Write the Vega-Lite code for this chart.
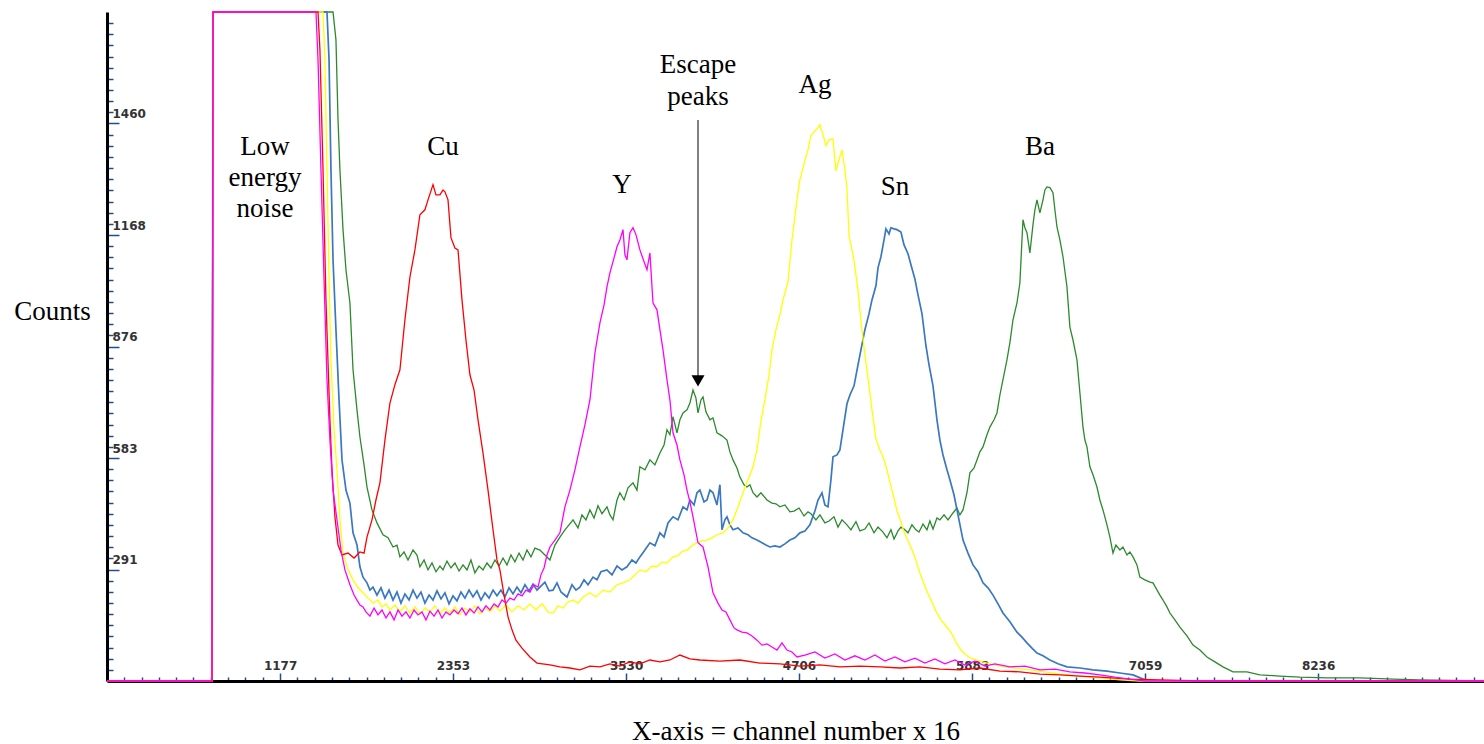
{
"$schema":"https://vega.github.io/schema/vega-lite/v6.json",
"width":1377,"height":669,
"autosize":{"type":"none"},
"padding":{"left":107,"top":12,"right":0,"bottom":63},
"background":"white",
"config":{"view":{"stroke":null}},
"datasets":{
"spectra":[
{"el":"Cu","ch":0,"ct":0},{"el":"Cu","ch":714,"ct":0},{"el":"Cu","ch":721,"ct":1752},{"el":"Cu","ch":1435,"ct":1752},{"el":"Cu","ch":1448,"ct":1653},{"el":"Cu","ch":1469,"ct":1339},{"el":"Cu","ch":1489,"ct":998},{"el":"Cu","ch":1516,"ct":684},{"el":"Cu","ch":1530,"ct":553},{"el":"Cu","ch":1550,"ct":430},{"el":"Cu","ch":1571,"ct":356},{"el":"Cu","ch":1598,"ct":330},{"el":"Cu","ch":1639,"ct":335},{"el":"Cu","ch":1680,"ct":322},{"el":"Cu","ch":1720,"ct":338},{"el":"Cu","ch":1748,"ct":335},{"el":"Cu","ch":1768,"ct":377},{"el":"Cu","ch":1802,"ct":422},{"el":"Cu","ch":1829,"ct":474},{"el":"Cu","ch":1856,"ct":519},{"el":"Cu","ch":1890,"ct":631},{"el":"Cu","ch":1924,"ct":728},{"el":"Cu","ch":1958,"ct":776},{"el":"Cu","ch":1992,"ct":815},{"el":"Cu","ch":2026,"ct":946},{"el":"Cu","ch":2060,"ct":1058},{"el":"Cu","ch":2094,"ct":1129},{"el":"Cu","ch":2128,"ct":1221},{"el":"Cu","ch":2162,"ct":1234},{"el":"Cu","ch":2183,"ct":1260},{"el":"Cu","ch":2217,"ct":1300},{"el":"Cu","ch":2237,"ct":1273},{"el":"Cu","ch":2264,"ct":1273},{"el":"Cu","ch":2285,"ct":1286},{"el":"Cu","ch":2298,"ct":1281},{"el":"Cu","ch":2319,"ct":1260},{"el":"Cu","ch":2339,"ct":1161},{"el":"Cu","ch":2366,"ct":1134},{"el":"Cu","ch":2387,"ct":1129},{"el":"Cu","ch":2414,"ct":998},{"el":"Cu","ch":2441,"ct":893},{"el":"Cu","ch":2468,"ct":802},{"el":"Cu","ch":2496,"ct":762},{"el":"Cu","ch":2523,"ct":684},{"el":"Cu","ch":2557,"ct":597},{"el":"Cu","ch":2591,"ct":500},{"el":"Cu","ch":2625,"ct":396},{"el":"Cu","ch":2652,"ct":317},{"el":"Cu","ch":2672,"ct":291},{"el":"Cu","ch":2700,"ct":225},{"el":"Cu","ch":2727,"ct":168},{"el":"Cu","ch":2754,"ct":134},{"el":"Cu","ch":2781,"ct":107},{"el":"Cu","ch":2822,"ct":86},{"el":"Cu","ch":2876,"ct":63},{"el":"Cu","ch":2924,"ct":47},{"el":"Cu","ch":3012,"ct":42},{"el":"Cu","ch":3080,"ct":37},{"el":"Cu","ch":3148,"ct":34},{"el":"Cu","ch":3216,"ct":29},{"el":"Cu","ch":3284,"ct":39},{"el":"Cu","ch":3352,"ct":37},{"el":"Cu","ch":3420,"ct":45},{"el":"Cu","ch":3488,"ct":39},{"el":"Cu","ch":3556,"ct":50},{"el":"Cu","ch":3624,"ct":45},{"el":"Cu","ch":3692,"ct":55},{"el":"Cu","ch":3760,"ct":50},{"el":"Cu","ch":3828,"ct":55},{"el":"Cu","ch":3896,"ct":68},{"el":"Cu","ch":3964,"ct":58},{"el":"Cu","ch":4032,"ct":55},{"el":"Cu","ch":4168,"ct":52},{"el":"Cu","ch":4304,"ct":55},{"el":"Cu","ch":4440,"ct":47},{"el":"Cu","ch":4576,"ct":45},{"el":"Cu","ch":4712,"ct":39},{"el":"Cu","ch":4848,"ct":42},{"el":"Cu","ch":4984,"ct":37},{"el":"Cu","ch":5120,"ct":39},{"el":"Cu","ch":5256,"ct":37},{"el":"Cu","ch":5392,"ct":34},{"el":"Cu","ch":5528,"ct":37},{"el":"Cu","ch":5664,"ct":31},{"el":"Cu","ch":5800,"ct":29},{"el":"Cu","ch":5936,"ct":34},{"el":"Cu","ch":6072,"ct":26},{"el":"Cu","ch":6208,"ct":24},{"el":"Cu","ch":6344,"ct":18},{"el":"Cu","ch":6480,"ct":16},{"el":"Cu","ch":6616,"ct":13},{"el":"Cu","ch":6752,"ct":10},{"el":"Cu","ch":6956,"ct":5},{"el":"Cu","ch":7160,"ct":3},{"el":"Cu","ch":7432,"ct":0},{"el":"Cu","ch":9364,"ct":0},
{"el":"Y","ch":0,"ct":0},{"el":"Y","ch":714,"ct":0},{"el":"Y","ch":721,"ct":1752},{"el":"Y","ch":1421,"ct":1752},{"el":"Y","ch":1435,"ct":1627},{"el":"Y","ch":1455,"ct":1339},{"el":"Y","ch":1476,"ct":1051},{"el":"Y","ch":1496,"ct":789},{"el":"Y","ch":1516,"ct":631},{"el":"Y","ch":1537,"ct":500},{"el":"Y","ch":1564,"ct":422},{"el":"Y","ch":1591,"ct":343},{"el":"Y","ch":1618,"ct":291},{"el":"Y","ch":1652,"ct":252},{"el":"Y","ch":1680,"ct":225},{"el":"Y","ch":1700,"ct":212},{"el":"Y","ch":1720,"ct":199},{"el":"Y","ch":1741,"ct":194},{"el":"Y","ch":1761,"ct":181},{"el":"Y","ch":1788,"ct":170},{"el":"Y","ch":1816,"ct":191},{"el":"Y","ch":1843,"ct":173},{"el":"Y","ch":1870,"ct":186},{"el":"Y","ch":1897,"ct":165},{"el":"Y","ch":1924,"ct":181},{"el":"Y","ch":1952,"ct":160},{"el":"Y","ch":1979,"ct":186},{"el":"Y","ch":2006,"ct":170},{"el":"Y","ch":2033,"ct":181},{"el":"Y","ch":2060,"ct":165},{"el":"Y","ch":2088,"ct":186},{"el":"Y","ch":2115,"ct":173},{"el":"Y","ch":2142,"ct":181},{"el":"Y","ch":2169,"ct":160},{"el":"Y","ch":2196,"ct":183},{"el":"Y","ch":2224,"ct":170},{"el":"Y","ch":2251,"ct":186},{"el":"Y","ch":2278,"ct":165},{"el":"Y","ch":2305,"ct":181},{"el":"Y","ch":2332,"ct":173},{"el":"Y","ch":2360,"ct":186},{"el":"Y","ch":2387,"ct":176},{"el":"Y","ch":2414,"ct":191},{"el":"Y","ch":2441,"ct":173},{"el":"Y","ch":2468,"ct":189},{"el":"Y","ch":2496,"ct":178},{"el":"Y","ch":2523,"ct":194},{"el":"Y","ch":2550,"ct":181},{"el":"Y","ch":2577,"ct":197},{"el":"Y","ch":2604,"ct":186},{"el":"Y","ch":2632,"ct":202},{"el":"Y","ch":2659,"ct":194},{"el":"Y","ch":2686,"ct":212},{"el":"Y","ch":2713,"ct":204},{"el":"Y","ch":2740,"ct":217},{"el":"Y","ch":2768,"ct":212},{"el":"Y","ch":2795,"ct":228},{"el":"Y","ch":2822,"ct":223},{"el":"Y","ch":2849,"ct":238},{"el":"Y","ch":2876,"ct":233},{"el":"Y","ch":2904,"ct":252},{"el":"Y","ch":2931,"ct":246},{"el":"Y","ch":2951,"ct":278},{"el":"Y","ch":2972,"ct":296},{"el":"Y","ch":2992,"ct":330},{"el":"Y","ch":3012,"ct":351},{"el":"Y","ch":3046,"ct":369},{"el":"Y","ch":3080,"ct":388},{"el":"Y","ch":3114,"ct":456},{"el":"Y","ch":3148,"ct":500},{"el":"Y","ch":3182,"ct":553},{"el":"Y","ch":3216,"ct":613},{"el":"Y","ch":3250,"ct":671},{"el":"Y","ch":3284,"ct":736},{"el":"Y","ch":3318,"ct":859},{"el":"Y","ch":3352,"ct":938},{"el":"Y","ch":3380,"ct":985},{"el":"Y","ch":3400,"ct":1032},{"el":"Y","ch":3420,"ct":1069},{"el":"Y","ch":3448,"ct":1108},{"el":"Y","ch":3468,"ct":1137},{"el":"Y","ch":3488,"ct":1155},{"el":"Y","ch":3509,"ct":1182},{"el":"Y","ch":3522,"ct":1116},{"el":"Y","ch":3536,"ct":1103},{"el":"Y","ch":3556,"ct":1174},{"el":"Y","ch":3577,"ct":1187},{"el":"Y","ch":3597,"ct":1169},{"el":"Y","ch":3624,"ct":1129},{"el":"Y","ch":3652,"ct":1098},{"el":"Y","ch":3672,"ct":1077},{"el":"Y","ch":3692,"ct":1121},{"el":"Y","ch":3713,"ct":990},{"el":"Y","ch":3740,"ct":972},{"el":"Y","ch":3760,"ct":920},{"el":"Y","ch":3781,"ct":867},{"el":"Y","ch":3808,"ct":789},{"el":"Y","ch":3828,"ct":736},{"el":"Y","ch":3849,"ct":650},{"el":"Y","ch":3876,"ct":618},{"el":"Y","ch":3896,"ct":579},{"el":"Y","ch":3924,"ct":540},{"el":"Y","ch":3944,"ct":500},{"el":"Y","ch":3964,"ct":469},{"el":"Y","ch":3985,"ct":430},{"el":"Y","ch":4019,"ct":362},{"el":"Y","ch":4053,"ct":351},{"el":"Y","ch":4087,"ct":299},{"el":"Y","ch":4121,"ct":231},{"el":"Y","ch":4155,"ct":204},{"el":"Y","ch":4182,"ct":186},{"el":"Y","ch":4209,"ct":181},{"el":"Y","ch":4236,"ct":160},{"el":"Y","ch":4264,"ct":139},{"el":"Y","ch":4284,"ct":134},{"el":"Y","ch":4318,"ct":128},{"el":"Y","ch":4352,"ct":126},{"el":"Y","ch":4386,"ct":118},{"el":"Y","ch":4420,"ct":107},{"el":"Y","ch":4454,"ct":94},{"el":"Y","ch":4488,"ct":97},{"el":"Y","ch":4522,"ct":89},{"el":"Y","ch":4556,"ct":81},{"el":"Y","ch":4590,"ct":100},{"el":"Y","ch":4624,"ct":81},{"el":"Y","ch":4658,"ct":76},{"el":"Y","ch":4692,"ct":63},{"el":"Y","ch":4746,"ct":68},{"el":"Y","ch":4814,"ct":76},{"el":"Y","ch":4882,"ct":60},{"el":"Y","ch":4950,"ct":71},{"el":"Y","ch":5018,"ct":55},{"el":"Y","ch":5086,"ct":66},{"el":"Y","ch":5154,"ct":55},{"el":"Y","ch":5222,"ct":68},{"el":"Y","ch":5290,"ct":52},{"el":"Y","ch":5358,"ct":63},{"el":"Y","ch":5426,"ct":50},{"el":"Y","ch":5494,"ct":60},{"el":"Y","ch":5562,"ct":47},{"el":"Y","ch":5630,"ct":58},{"el":"Y","ch":5698,"ct":45},{"el":"Y","ch":5766,"ct":55},{"el":"Y","ch":5834,"ct":42},{"el":"Y","ch":5902,"ct":52},{"el":"Y","ch":5970,"ct":39},{"el":"Y","ch":6038,"ct":45},{"el":"Y","ch":6140,"ct":37},{"el":"Y","ch":6242,"ct":39},{"el":"Y","ch":6344,"ct":29},{"el":"Y","ch":6446,"ct":31},{"el":"Y","ch":6548,"ct":24},{"el":"Y","ch":6650,"ct":21},{"el":"Y","ch":6752,"ct":16},{"el":"Y","ch":6854,"ct":10},{"el":"Y","ch":6956,"ct":5},{"el":"Y","ch":7058,"ct":0},{"el":"Y","ch":9364,"ct":0},
{"el":"Ag","ch":0,"ct":0},{"el":"Ag","ch":714,"ct":0},{"el":"Ag","ch":721,"ct":1752},{"el":"Ag","ch":1469,"ct":1752},{"el":"Ag","ch":1482,"ct":1627},{"el":"Ag","ch":1496,"ct":1339},{"el":"Ag","ch":1510,"ct":1051},{"el":"Ag","ch":1523,"ct":841},{"el":"Ag","ch":1544,"ct":658},{"el":"Ag","ch":1564,"ct":553},{"el":"Ag","ch":1584,"ct":422},{"el":"Ag","ch":1605,"ct":335},{"el":"Ag","ch":1639,"ct":291},{"el":"Ag","ch":1673,"ct":265},{"el":"Ag","ch":1707,"ct":244},{"el":"Ag","ch":1741,"ct":231},{"el":"Ag","ch":1775,"ct":217},{"el":"Ag","ch":1809,"ct":204},{"el":"Ag","ch":1843,"ct":212},{"el":"Ag","ch":1870,"ct":194},{"el":"Ag","ch":1897,"ct":202},{"el":"Ag","ch":1924,"ct":186},{"el":"Ag","ch":1958,"ct":199},{"el":"Ag","ch":1992,"ct":181},{"el":"Ag","ch":2026,"ct":197},{"el":"Ag","ch":2060,"ct":178},{"el":"Ag","ch":2094,"ct":194},{"el":"Ag","ch":2128,"ct":176},{"el":"Ag","ch":2162,"ct":191},{"el":"Ag","ch":2196,"ct":181},{"el":"Ag","ch":2230,"ct":197},{"el":"Ag","ch":2264,"ct":176},{"el":"Ag","ch":2298,"ct":191},{"el":"Ag","ch":2332,"ct":178},{"el":"Ag","ch":2366,"ct":194},{"el":"Ag","ch":2400,"ct":173},{"el":"Ag","ch":2434,"ct":191},{"el":"Ag","ch":2468,"ct":181},{"el":"Ag","ch":2502,"ct":197},{"el":"Ag","ch":2536,"ct":176},{"el":"Ag","ch":2570,"ct":194},{"el":"Ag","ch":2604,"ct":181},{"el":"Ag","ch":2638,"ct":197},{"el":"Ag","ch":2672,"ct":183},{"el":"Ag","ch":2713,"ct":199},{"el":"Ag","ch":2754,"ct":181},{"el":"Ag","ch":2795,"ct":197},{"el":"Ag","ch":2836,"ct":186},{"el":"Ag","ch":2876,"ct":202},{"el":"Ag","ch":2917,"ct":186},{"el":"Ag","ch":2958,"ct":202},{"el":"Ag","ch":2999,"ct":181},{"el":"Ag","ch":3033,"ct":178},{"el":"Ag","ch":3067,"ct":197},{"el":"Ag","ch":3101,"ct":191},{"el":"Ag","ch":3135,"ct":207},{"el":"Ag","ch":3169,"ct":212},{"el":"Ag","ch":3203,"ct":204},{"el":"Ag","ch":3237,"ct":220},{"el":"Ag","ch":3284,"ct":231},{"el":"Ag","ch":3325,"ct":220},{"el":"Ag","ch":3373,"ct":238},{"el":"Ag","ch":3420,"ct":233},{"el":"Ag","ch":3468,"ct":252},{"el":"Ag","ch":3509,"ct":257},{"el":"Ag","ch":3556,"ct":265},{"el":"Ag","ch":3590,"ct":278},{"el":"Ag","ch":3624,"ct":291},{"el":"Ag","ch":3665,"ct":286},{"el":"Ag","ch":3706,"ct":301},{"el":"Ag","ch":3740,"ct":299},{"el":"Ag","ch":3774,"ct":312},{"el":"Ag","ch":3808,"ct":309},{"el":"Ag","ch":3849,"ct":325},{"el":"Ag","ch":3883,"ct":328},{"el":"Ag","ch":3917,"ct":341},{"el":"Ag","ch":3944,"ct":343},{"el":"Ag","ch":3978,"ct":354},{"el":"Ag","ch":4012,"ct":362},{"el":"Ag","ch":4046,"ct":367},{"el":"Ag","ch":4080,"ct":369},{"el":"Ag","ch":4114,"ct":375},{"el":"Ag","ch":4148,"ct":383},{"el":"Ag","ch":4189,"ct":388},{"el":"Ag","ch":4223,"ct":401},{"el":"Ag","ch":4257,"ct":422},{"el":"Ag","ch":4291,"ct":456},{"el":"Ag","ch":4325,"ct":493},{"el":"Ag","ch":4359,"ct":527},{"el":"Ag","ch":4393,"ct":561},{"el":"Ag","ch":4420,"ct":605},{"el":"Ag","ch":4447,"ct":681},{"el":"Ag","ch":4474,"ct":736},{"el":"Ag","ch":4502,"ct":802},{"el":"Ag","ch":4522,"ct":867},{"el":"Ag","ch":4549,"ct":920},{"el":"Ag","ch":4576,"ct":959},{"el":"Ag","ch":4597,"ct":998},{"el":"Ag","ch":4631,"ct":1045},{"el":"Ag","ch":4658,"ct":1155},{"el":"Ag","ch":4692,"ct":1260},{"el":"Ag","ch":4712,"ct":1313},{"el":"Ag","ch":4740,"ct":1355},{"el":"Ag","ch":4767,"ct":1391},{"el":"Ag","ch":4787,"ct":1428},{"el":"Ag","ch":4808,"ct":1438},{"el":"Ag","ch":4828,"ct":1446},{"el":"Ag","ch":4848,"ct":1457},{"el":"Ag","ch":4869,"ct":1431},{"el":"Ag","ch":4889,"ct":1402},{"el":"Ag","ch":4910,"ct":1417},{"el":"Ag","ch":4937,"ct":1420},{"el":"Ag","ch":4957,"ct":1336},{"el":"Ag","ch":4978,"ct":1365},{"el":"Ag","ch":4998,"ct":1391},{"el":"Ag","ch":5018,"ct":1339},{"el":"Ag","ch":5032,"ct":1289},{"el":"Ag","ch":5046,"ct":1166},{"el":"Ag","ch":5066,"ct":1129},{"el":"Ag","ch":5080,"ct":1100},{"el":"Ag","ch":5107,"ct":1024},{"el":"Ag","ch":5127,"ct":943},{"el":"Ag","ch":5154,"ct":854},{"el":"Ag","ch":5182,"ct":773},{"el":"Ag","ch":5202,"ct":710},{"el":"Ag","ch":5229,"ct":634},{"el":"Ag","ch":5256,"ct":605},{"el":"Ag","ch":5277,"ct":587},{"el":"Ag","ch":5304,"ct":553},{"el":"Ag","ch":5324,"ct":521},{"el":"Ag","ch":5352,"ct":479},{"el":"Ag","ch":5372,"ct":445},{"el":"Ag","ch":5399,"ct":417},{"el":"Ag","ch":5420,"ct":390},{"el":"Ag","ch":5460,"ct":356},{"el":"Ag","ch":5494,"ct":325},{"el":"Ag","ch":5528,"ct":283},{"el":"Ag","ch":5569,"ct":241},{"el":"Ag","ch":5603,"ct":212},{"el":"Ag","ch":5637,"ct":183},{"el":"Ag","ch":5671,"ct":160},{"el":"Ag","ch":5705,"ct":144},{"el":"Ag","ch":5739,"ct":128},{"el":"Ag","ch":5773,"ct":102},{"el":"Ag","ch":5807,"ct":81},{"el":"Ag","ch":5841,"ct":68},{"el":"Ag","ch":5875,"ct":60},{"el":"Ag","ch":5936,"ct":52},{"el":"Ag","ch":6004,"ct":45},{"el":"Ag","ch":6072,"ct":39},{"el":"Ag","ch":6174,"ct":34},{"el":"Ag","ch":6276,"ct":29},{"el":"Ag","ch":6378,"ct":24},{"el":"Ag","ch":6480,"ct":18},{"el":"Ag","ch":6616,"ct":13},{"el":"Ag","ch":6752,"ct":8},{"el":"Ag","ch":6888,"ct":3},{"el":"Ag","ch":7024,"ct":0},{"el":"Ag","ch":9364,"ct":0},
{"el":"Sn","ch":0,"ct":0},{"el":"Sn","ch":714,"ct":0},{"el":"Sn","ch":721,"ct":1752},{"el":"Sn","ch":1496,"ct":1752},{"el":"Sn","ch":1510,"ct":1627},{"el":"Sn","ch":1523,"ct":1339},{"el":"Sn","ch":1537,"ct":1103},{"el":"Sn","ch":1557,"ct":920},{"el":"Sn","ch":1578,"ct":736},{"el":"Sn","ch":1598,"ct":579},{"el":"Sn","ch":1625,"ct":500},{"el":"Sn","ch":1652,"ct":466},{"el":"Sn","ch":1673,"ct":388},{"el":"Sn","ch":1700,"ct":356},{"el":"Sn","ch":1720,"ct":299},{"el":"Sn","ch":1741,"ct":272},{"el":"Sn","ch":1768,"ct":257},{"el":"Sn","ch":1788,"ct":238},{"el":"Sn","ch":1809,"ct":246},{"el":"Sn","ch":1836,"ct":225},{"el":"Sn","ch":1863,"ct":244},{"el":"Sn","ch":1890,"ct":217},{"el":"Sn","ch":1918,"ct":238},{"el":"Sn","ch":1945,"ct":212},{"el":"Sn","ch":1972,"ct":233},{"el":"Sn","ch":1999,"ct":204},{"el":"Sn","ch":2026,"ct":228},{"el":"Sn","ch":2054,"ct":212},{"el":"Sn","ch":2081,"ct":238},{"el":"Sn","ch":2108,"ct":217},{"el":"Sn","ch":2135,"ct":233},{"el":"Sn","ch":2162,"ct":204},{"el":"Sn","ch":2190,"ct":225},{"el":"Sn","ch":2217,"ct":212},{"el":"Sn","ch":2244,"ct":236},{"el":"Sn","ch":2271,"ct":215},{"el":"Sn","ch":2298,"ct":231},{"el":"Sn","ch":2326,"ct":202},{"el":"Sn","ch":2353,"ct":223},{"el":"Sn","ch":2380,"ct":210},{"el":"Sn","ch":2407,"ct":233},{"el":"Sn","ch":2434,"ct":217},{"el":"Sn","ch":2462,"ct":238},{"el":"Sn","ch":2489,"ct":220},{"el":"Sn","ch":2516,"ct":236},{"el":"Sn","ch":2543,"ct":212},{"el":"Sn","ch":2570,"ct":231},{"el":"Sn","ch":2598,"ct":217},{"el":"Sn","ch":2625,"ct":238},{"el":"Sn","ch":2652,"ct":223},{"el":"Sn","ch":2679,"ct":238},{"el":"Sn","ch":2706,"ct":220},{"el":"Sn","ch":2734,"ct":244},{"el":"Sn","ch":2761,"ct":228},{"el":"Sn","ch":2788,"ct":246},{"el":"Sn","ch":2815,"ct":231},{"el":"Sn","ch":2842,"ct":252},{"el":"Sn","ch":2870,"ct":236},{"el":"Sn","ch":2897,"ct":254},{"el":"Sn","ch":2924,"ct":238},{"el":"Sn","ch":2944,"ct":246},{"el":"Sn","ch":2978,"ct":259},{"el":"Sn","ch":3006,"ct":236},{"el":"Sn","ch":3033,"ct":238},{"el":"Sn","ch":3060,"ct":257},{"el":"Sn","ch":3087,"ct":233},{"el":"Sn","ch":3128,"ct":220},{"el":"Sn","ch":3162,"ct":252},{"el":"Sn","ch":3189,"ct":238},{"el":"Sn","ch":3216,"ct":246},{"el":"Sn","ch":3244,"ct":265},{"el":"Sn","ch":3271,"ct":252},{"el":"Sn","ch":3305,"ct":272},{"el":"Sn","ch":3332,"ct":265},{"el":"Sn","ch":3359,"ct":286},{"el":"Sn","ch":3400,"ct":291},{"el":"Sn","ch":3434,"ct":278},{"el":"Sn","ch":3468,"ct":301},{"el":"Sn","ch":3502,"ct":291},{"el":"Sn","ch":3536,"ct":299},{"el":"Sn","ch":3570,"ct":317},{"el":"Sn","ch":3597,"ct":309},{"el":"Sn","ch":3624,"ct":325},{"el":"Sn","ch":3658,"ct":343},{"el":"Sn","ch":3692,"ct":362},{"el":"Sn","ch":3726,"ct":354},{"el":"Sn","ch":3760,"ct":388},{"el":"Sn","ch":3788,"ct":377},{"el":"Sn","ch":3815,"ct":414},{"el":"Sn","ch":3849,"ct":430},{"el":"Sn","ch":3883,"ct":422},{"el":"Sn","ch":3917,"ct":456},{"el":"Sn","ch":3944,"ct":448},{"el":"Sn","ch":3964,"ct":474},{"el":"Sn","ch":3992,"ct":461},{"el":"Sn","ch":4012,"ct":493},{"el":"Sn","ch":4032,"ct":500},{"el":"Sn","ch":4060,"ct":469},{"el":"Sn","ch":4080,"ct":474},{"el":"Sn","ch":4100,"ct":500},{"el":"Sn","ch":4121,"ct":493},{"el":"Sn","ch":4148,"ct":461},{"el":"Sn","ch":4168,"ct":514},{"el":"Sn","ch":4182,"ct":396},{"el":"Sn","ch":4202,"ct":422},{"el":"Sn","ch":4216,"ct":430},{"el":"Sn","ch":4236,"ct":409},{"el":"Sn","ch":4257,"ct":396},{"el":"Sn","ch":4291,"ct":401},{"el":"Sn","ch":4325,"ct":388},{"el":"Sn","ch":4359,"ct":383},{"el":"Sn","ch":4386,"ct":375},{"el":"Sn","ch":4420,"ct":369},{"el":"Sn","ch":4454,"ct":362},{"el":"Sn","ch":4481,"ct":356},{"el":"Sn","ch":4508,"ct":351},{"el":"Sn","ch":4542,"ct":354},{"el":"Sn","ch":4576,"ct":351},{"el":"Sn","ch":4610,"ct":359},{"el":"Sn","ch":4644,"ct":369},{"el":"Sn","ch":4678,"ct":375},{"el":"Sn","ch":4712,"ct":388},{"el":"Sn","ch":4746,"ct":393},{"el":"Sn","ch":4780,"ct":409},{"el":"Sn","ch":4814,"ct":445},{"el":"Sn","ch":4835,"ct":474},{"el":"Sn","ch":4862,"ct":493},{"el":"Sn","ch":4882,"ct":461},{"el":"Sn","ch":4903,"ct":456},{"el":"Sn","ch":4923,"ct":527},{"el":"Sn","ch":4937,"ct":587},{"el":"Sn","ch":4964,"ct":592},{"el":"Sn","ch":4984,"ct":605},{"el":"Sn","ch":5005,"ct":658},{"el":"Sn","ch":5032,"ct":726},{"el":"Sn","ch":5052,"ct":749},{"el":"Sn","ch":5080,"ct":773},{"el":"Sn","ch":5107,"ct":828},{"el":"Sn","ch":5127,"ct":867},{"el":"Sn","ch":5154,"ct":920},{"el":"Sn","ch":5182,"ct":962},{"el":"Sn","ch":5202,"ct":998},{"el":"Sn","ch":5229,"ct":1035},{"el":"Sn","ch":5243,"ct":1082},{"el":"Sn","ch":5263,"ct":1111},{"el":"Sn","ch":5284,"ct":1155},{"el":"Sn","ch":5297,"ct":1184},{"el":"Sn","ch":5318,"ct":1171},{"el":"Sn","ch":5331,"ct":1187},{"el":"Sn","ch":5352,"ct":1184},{"el":"Sn","ch":5372,"ct":1182},{"el":"Sn","ch":5399,"ct":1176},{"el":"Sn","ch":5420,"ct":1142},{"el":"Sn","ch":5447,"ct":1119},{"el":"Sn","ch":5467,"ct":1090},{"el":"Sn","ch":5494,"ct":1053},{"el":"Sn","ch":5515,"ct":1011},{"el":"Sn","ch":5542,"ct":962},{"el":"Sn","ch":5569,"ct":878},{"el":"Sn","ch":5590,"ct":828},{"el":"Sn","ch":5617,"ct":773},{"el":"Sn","ch":5644,"ct":684},{"el":"Sn","ch":5664,"ct":631},{"el":"Sn","ch":5685,"ct":592},{"el":"Sn","ch":5712,"ct":553},{"el":"Sn","ch":5732,"ct":527},{"el":"Sn","ch":5760,"ct":487},{"el":"Sn","ch":5787,"ct":435},{"el":"Sn","ch":5821,"ct":369},{"el":"Sn","ch":5855,"ct":335},{"el":"Sn","ch":5889,"ct":304},{"el":"Sn","ch":5923,"ct":286},{"el":"Sn","ch":5957,"ct":257},{"el":"Sn","ch":5991,"ct":244},{"el":"Sn","ch":6025,"ct":225},{"el":"Sn","ch":6059,"ct":202},{"el":"Sn","ch":6093,"ct":178},{"el":"Sn","ch":6140,"ct":155},{"el":"Sn","ch":6188,"ct":128},{"el":"Sn","ch":6222,"ct":115},{"el":"Sn","ch":6256,"ct":100},{"el":"Sn","ch":6290,"ct":86},{"el":"Sn","ch":6324,"ct":73},{"el":"Sn","ch":6365,"ct":66},{"el":"Sn","ch":6412,"ct":55},{"el":"Sn","ch":6467,"ct":45},{"el":"Sn","ch":6528,"ct":37},{"el":"Sn","ch":6616,"ct":34},{"el":"Sn","ch":6705,"ct":29},{"el":"Sn","ch":6800,"ct":26},{"el":"Sn","ch":6888,"ct":21},{"el":"Sn","ch":6977,"ct":16},{"el":"Sn","ch":7058,"ct":3},{"el":"Sn","ch":7160,"ct":0},{"el":"Sn","ch":9364,"ct":0},
{"el":"Ba","ch":0,"ct":0},{"el":"Ba","ch":714,"ct":0},{"el":"Ba","ch":721,"ct":1752},{"el":"Ba","ch":1537,"ct":1752},{"el":"Ba","ch":1557,"ct":1679},{"el":"Ba","ch":1571,"ct":1470},{"el":"Ba","ch":1584,"ct":1339},{"el":"Ba","ch":1605,"ct":1182},{"el":"Ba","ch":1625,"ct":1077},{"el":"Ba","ch":1652,"ct":990},{"el":"Ba","ch":1673,"ct":815},{"el":"Ba","ch":1700,"ct":710},{"el":"Ba","ch":1720,"ct":639},{"el":"Ba","ch":1748,"ct":566},{"el":"Ba","ch":1768,"ct":508},{"el":"Ba","ch":1802,"ct":448},{"el":"Ba","ch":1836,"ct":414},{"el":"Ba","ch":1877,"ct":383},{"el":"Ba","ch":1911,"ct":375},{"el":"Ba","ch":1945,"ct":351},{"el":"Ba","ch":1972,"ct":356},{"el":"Ba","ch":1992,"ct":325},{"el":"Ba","ch":2020,"ct":338},{"el":"Ba","ch":2047,"ct":317},{"el":"Ba","ch":2081,"ct":343},{"el":"Ba","ch":2108,"ct":330},{"el":"Ba","ch":2128,"ct":299},{"el":"Ba","ch":2156,"ct":317},{"el":"Ba","ch":2183,"ct":291},{"el":"Ba","ch":2210,"ct":309},{"el":"Ba","ch":2237,"ct":286},{"el":"Ba","ch":2264,"ct":301},{"el":"Ba","ch":2285,"ct":291},{"el":"Ba","ch":2312,"ct":314},{"el":"Ba","ch":2339,"ct":296},{"el":"Ba","ch":2366,"ct":309},{"el":"Ba","ch":2394,"ct":288},{"el":"Ba","ch":2421,"ct":304},{"el":"Ba","ch":2448,"ct":291},{"el":"Ba","ch":2475,"ct":317},{"el":"Ba","ch":2502,"ct":283},{"el":"Ba","ch":2530,"ct":301},{"el":"Ba","ch":2557,"ct":291},{"el":"Ba","ch":2584,"ct":309},{"el":"Ba","ch":2611,"ct":296},{"el":"Ba","ch":2638,"ct":317},{"el":"Ba","ch":2666,"ct":301},{"el":"Ba","ch":2693,"ct":322},{"el":"Ba","ch":2720,"ct":304},{"el":"Ba","ch":2747,"ct":330},{"el":"Ba","ch":2774,"ct":312},{"el":"Ba","ch":2802,"ct":335},{"el":"Ba","ch":2829,"ct":317},{"el":"Ba","ch":2856,"ct":343},{"el":"Ba","ch":2883,"ct":325},{"el":"Ba","ch":2910,"ct":348},{"el":"Ba","ch":2944,"ct":343},{"el":"Ba","ch":2978,"ct":330},{"el":"Ba","ch":3012,"ct":317},{"el":"Ba","ch":3046,"ct":356},{"el":"Ba","ch":3080,"ct":377},{"el":"Ba","ch":3114,"ct":396},{"el":"Ba","ch":3142,"ct":409},{"el":"Ba","ch":3169,"ct":422},{"el":"Ba","ch":3203,"ct":401},{"el":"Ba","ch":3230,"ct":435},{"el":"Ba","ch":3257,"ct":422},{"el":"Ba","ch":3284,"ct":448},{"el":"Ba","ch":3312,"ct":427},{"el":"Ba","ch":3339,"ct":459},{"el":"Ba","ch":3366,"ct":438},{"el":"Ba","ch":3400,"ct":456},{"el":"Ba","ch":3420,"ct":435},{"el":"Ba","ch":3441,"ct":422},{"el":"Ba","ch":3468,"ct":474},{"el":"Ba","ch":3488,"ct":493},{"el":"Ba","ch":3516,"ct":474},{"el":"Ba","ch":3543,"ct":506},{"el":"Ba","ch":3577,"ct":519},{"el":"Ba","ch":3604,"ct":500},{"el":"Ba","ch":3624,"ct":561},{"el":"Ba","ch":3658,"ct":553},{"el":"Ba","ch":3692,"ct":579},{"el":"Ba","ch":3726,"ct":566},{"el":"Ba","ch":3760,"ct":597},{"el":"Ba","ch":3788,"ct":618},{"el":"Ba","ch":3808,"ct":658},{"el":"Ba","ch":3828,"ct":645},{"el":"Ba","ch":3849,"ct":692},{"el":"Ba","ch":3876,"ct":650},{"el":"Ba","ch":3896,"ct":684},{"el":"Ba","ch":3917,"ct":702},{"el":"Ba","ch":3944,"ct":710},{"el":"Ba","ch":3964,"ct":728},{"el":"Ba","ch":3985,"ct":762},{"el":"Ba","ch":4005,"ct":741},{"el":"Ba","ch":4019,"ct":702},{"el":"Ba","ch":4039,"ct":736},{"el":"Ba","ch":4053,"ct":744},{"el":"Ba","ch":4073,"ct":705},{"el":"Ba","ch":4100,"ct":684},{"el":"Ba","ch":4121,"ct":689},{"el":"Ba","ch":4148,"ct":650},{"el":"Ba","ch":4182,"ct":642},{"el":"Ba","ch":4216,"ct":631},{"el":"Ba","ch":4236,"ct":600},{"el":"Ba","ch":4257,"ct":579},{"el":"Ba","ch":4284,"ct":558},{"el":"Ba","ch":4304,"ct":534},{"el":"Ba","ch":4332,"ct":514},{"el":"Ba","ch":4352,"ct":508},{"el":"Ba","ch":4372,"ct":514},{"el":"Ba","ch":4393,"ct":493},{"el":"Ba","ch":4420,"ct":482},{"el":"Ba","ch":4447,"ct":493},{"el":"Ba","ch":4488,"ct":474},{"el":"Ba","ch":4522,"ct":466},{"el":"Ba","ch":4549,"ct":464},{"el":"Ba","ch":4576,"ct":456},{"el":"Ba","ch":4610,"ct":461},{"el":"Ba","ch":4644,"ct":443},{"el":"Ba","ch":4672,"ct":445},{"el":"Ba","ch":4706,"ct":453},{"el":"Ba","ch":4740,"ct":432},{"el":"Ba","ch":4767,"ct":443},{"el":"Ba","ch":4787,"ct":438},{"el":"Ba","ch":4821,"ct":422},{"el":"Ba","ch":4848,"ct":435},{"el":"Ba","ch":4882,"ct":414},{"el":"Ba","ch":4910,"ct":419},{"el":"Ba","ch":4944,"ct":430},{"el":"Ba","ch":4971,"ct":403},{"el":"Ba","ch":4998,"ct":422},{"el":"Ba","ch":5032,"ct":409},{"el":"Ba","ch":5059,"ct":396},{"el":"Ba","ch":5093,"ct":417},{"el":"Ba","ch":5120,"ct":393},{"el":"Ba","ch":5154,"ct":398},{"el":"Ba","ch":5182,"ct":414},{"el":"Ba","ch":5216,"ct":388},{"el":"Ba","ch":5243,"ct":403},{"el":"Ba","ch":5277,"ct":390},{"el":"Ba","ch":5304,"ct":375},{"el":"Ba","ch":5331,"ct":396},{"el":"Ba","ch":5352,"ct":372},{"el":"Ba","ch":5379,"ct":393},{"el":"Ba","ch":5399,"ct":403},{"el":"Ba","ch":5420,"ct":398},{"el":"Ba","ch":5447,"ct":388},{"el":"Ba","ch":5474,"ct":409},{"el":"Ba","ch":5501,"ct":396},{"el":"Ba","ch":5522,"ct":390},{"el":"Ba","ch":5549,"ct":411},{"el":"Ba","ch":5576,"ct":396},{"el":"Ba","ch":5596,"ct":419},{"el":"Ba","ch":5617,"ct":398},{"el":"Ba","ch":5644,"ct":427},{"el":"Ba","ch":5664,"ct":422},{"el":"Ba","ch":5692,"ct":435},{"el":"Ba","ch":5719,"ct":422},{"el":"Ba","ch":5753,"ct":440},{"el":"Ba","ch":5780,"ct":453},{"el":"Ba","ch":5800,"ct":435},{"el":"Ba","ch":5821,"ct":448},{"el":"Ba","ch":5848,"ct":493},{"el":"Ba","ch":5868,"ct":545},{"el":"Ba","ch":5896,"ct":558},{"el":"Ba","ch":5916,"ct":579},{"el":"Ba","ch":5936,"ct":600},{"el":"Ba","ch":5957,"ct":613},{"el":"Ba","ch":5984,"ct":645},{"el":"Ba","ch":6004,"ct":665},{"el":"Ba","ch":6032,"ct":684},{"el":"Ba","ch":6052,"ct":702},{"el":"Ba","ch":6072,"ct":749},{"el":"Ba","ch":6093,"ct":789},{"el":"Ba","ch":6120,"ct":841},{"el":"Ba","ch":6140,"ct":886},{"el":"Ba","ch":6161,"ct":946},{"el":"Ba","ch":6188,"ct":990},{"el":"Ba","ch":6208,"ct":1043},{"el":"Ba","ch":6222,"ct":1155},{"el":"Ba","ch":6229,"ct":1208},{"el":"Ba","ch":6242,"ct":1187},{"el":"Ba","ch":6256,"ct":1174},{"el":"Ba","ch":6276,"ct":1121},{"el":"Ba","ch":6297,"ct":1195},{"el":"Ba","ch":6310,"ct":1234},{"el":"Ba","ch":6324,"ct":1260},{"el":"Ba","ch":6344,"ct":1226},{"el":"Ba","ch":6365,"ct":1260},{"el":"Ba","ch":6378,"ct":1286},{"el":"Ba","ch":6392,"ct":1294},{"el":"Ba","ch":6412,"ct":1292},{"el":"Ba","ch":6433,"ct":1279},{"el":"Ba","ch":6446,"ct":1234},{"el":"Ba","ch":6460,"ct":1189},{"el":"Ba","ch":6480,"ct":1155},{"el":"Ba","ch":6501,"ct":1111},{"el":"Ba","ch":6528,"ct":1032},{"el":"Ba","ch":6548,"ct":927},{"el":"Ba","ch":6569,"ct":893},{"el":"Ba","ch":6596,"ct":841},{"el":"Ba","ch":6616,"ct":755},{"el":"Ba","ch":6637,"ct":665},{"el":"Ba","ch":6650,"ct":631},{"el":"Ba","ch":6664,"ct":613},{"el":"Ba","ch":6684,"ct":561},{"el":"Ba","ch":6705,"ct":540},{"el":"Ba","ch":6732,"ct":508},{"el":"Ba","ch":6752,"ct":474},{"el":"Ba","ch":6773,"ct":448},{"el":"Ba","ch":6800,"ct":409},{"el":"Ba","ch":6820,"ct":377},{"el":"Ba","ch":6841,"ct":335},{"el":"Ba","ch":6861,"ct":356},{"el":"Ba","ch":6888,"ct":343},{"el":"Ba","ch":6909,"ct":351},{"el":"Ba","ch":6936,"ct":330},{"el":"Ba","ch":6956,"ct":338},{"el":"Ba","ch":6977,"ct":325},{"el":"Ba","ch":7004,"ct":304},{"el":"Ba","ch":7024,"ct":272},{"el":"Ba","ch":7058,"ct":265},{"el":"Ba","ch":7092,"ct":259},{"el":"Ba","ch":7113,"ct":257},{"el":"Ba","ch":7160,"ct":225},{"el":"Ba","ch":7181,"ct":212},{"el":"Ba","ch":7208,"ct":194},{"el":"Ba","ch":7228,"ct":178},{"el":"Ba","ch":7262,"ct":160},{"el":"Ba","ch":7296,"ct":141},{"el":"Ba","ch":7344,"ct":118},{"el":"Ba","ch":7385,"ct":94},{"el":"Ba","ch":7432,"ct":81},{"el":"Ba","ch":7480,"ct":63},{"el":"Ba","ch":7534,"ct":50},{"el":"Ba","ch":7589,"ct":37},{"el":"Ba","ch":7657,"ct":24},{"el":"Ba","ch":7752,"ct":24},{"el":"Ba","ch":7840,"ct":16},{"el":"Ba","ch":7976,"ct":13},{"el":"Ba","ch":8112,"ct":10},{"el":"Ba","ch":8296,"ct":8},{"el":"Ba","ch":8520,"ct":8},{"el":"Ba","ch":8745,"ct":5},{"el":"Ba","ch":8928,"ct":3},{"el":"Ba","ch":9364,"ct":0}
],
"notes":[
{"t":"Low","ch":1074,"ct":1399},{"t":"energy","ch":1074,"ct":1317},{"t":"noise","ch":1074,"ct":1236},
{"t":"Cu","ch":2285,"ct":1399},{"t":"Y","ch":3502,"ct":1299},{"t":"Escape","ch":4019,"ct":1613},{"t":"peaks","ch":4019,"ct":1529},
{"t":"Ag","ch":4814,"ct":1561},{"t":"Sn","ch":5358,"ct":1294},{"t":"Ba","ch":6344,"ct":1399}
],
"arrow":[{"ch":4019,"ct":1469,"ct2":796,"tip":786}]
},
"encoding":{
"x":{"field":"ch","type":"quantitative","scale":{"domain":[0,9364],"nice":false,"zero":false},
"axis":{"title":"X-axis = channel number x 16","titleFont":"Liberation Serif","titleFontSize":27,"titleFontWeight":"normal","titleColor":"black","titleY":50,"titleBaseline":"middle",
"values":[117.6,235.3,352.9,470.6,588.2,705.9,823.5,941.2,1058.8,1177,1294.1,1411.8,1529.4,1647.1,1764.7,1882.4,2000,2117.6,2235.3,2353,2470.6,2588.2,2705.9,2823.5,2941.2,3058.8,3176.5,3294.1,3411.8,3530,3647.1,3764.7,3882.4,4000,4117.6,4235.3,4352.9,4470.6,4588.2,4706,4823.5,4941.2,5058.8,5176.5,5294.1,5411.8,5529.4,5647.1,5764.7,5883,6000,6117.6,6235.3,6352.9,6470.6,6588.2,6705.9,6823.5,6941.2,7059,7176.5,7294.1,7411.8,7529.4,7647.1,7764.7,7882.4,8000,8117.6,8236,8352.9,8470.6,8588.2,8705.9,8823.5,8941.2,9058.8,9176.5,9294.1],
"format":"d",
"labelExpr":"indexof([1177,2353,3530,4706,5883,7059,8236], datum.value) >= 0 ? datum.label : ''",
"tickSize":{"condition":{"test":"indexof([1177,2353,3530,4706,5883,7059,8236], datum.value) >= 0","value":-8},"value":-4},
"tickColor":"#1f4e8c","tickWidth":1.5,"domainColor":"black","domainWidth":3,
"labelBaseline":"middle","labelPadding":-8,"labelFont":"DejaVu Sans","labelFontSize":12,"labelFontWeight":"bold","labelColor":"#333333",
"labelOverlap":false,"labelFlush":false,"labelBound":false,"grid":false}},
"y":{"field":"ct","type":"quantitative","scale":{"domain":[0,1752],"nice":false,"zero":true},
"axis":{"title":"Counts","titleAngle":0,"titleX":-55,"titleY":299,"titleAlign":"center","titleBaseline":"middle","titleFont":"Liberation Serif","titleFontSize":27,"titleFontWeight":"normal","titleColor":"black",
"values":[29.2,58.4,87.6,116.8,146,175.2,204.4,233.6,262.8,291,321.2,350.4,379.6,408.8,438,467.2,496.4,525.6,554.8,583,613.2,642.4,671.6,700.8,730,759.2,788.4,817.6,846.8,876,905.2,934.4,963.6,992.8,1022,1051.2,1080.4,1109.6,1138.8,1168,1197.2,1226.4,1255.6,1284.8,1314,1343.2,1372.4,1401.6,1430.8,1460,1489.2,1518.4,1547.6,1576.8,1606,1635.2,1664.4,1693.6,1722.8],
"format":"d",
"labelExpr":"indexof([291,583,876,1168,1460], datum.value) >= 0 ? datum.label : ''",
"tickSize":{"condition":{"test":"indexof([291,583,876,1168,1460], datum.value) >= 0","value":-12},"value":-6},
"tickColor":"#1f4e8c","tickWidth":1.5,"domainColor":"black","domainWidth":3,
"labelAlign":"left","labelBaseline":"middle","labelPadding":7,"labelOffset":-10,"labelFont":"DejaVu Sans","labelFontSize":12,"labelFontWeight":"bold","labelColor":"#333333",
"labelOverlap":false,"labelFlush":false,"labelBound":false,"grid":false}}
},
"layer":[
{"data":{"values":[{}]},"mark":{"type":"rule","color":"black","strokeWidth":3},
 "encoding":{"x":{"datum":0},"x2":{"datum":9364},"y":{"datum":1752}}},
{"data":{"name":"spectra"},"transform":[{"filter":"datum.el === 'Ba'"}],"mark":{"type":"line","color":"#2b8a2b","strokeWidth":1.3}},
{"data":{"name":"spectra"},"transform":[{"filter":"datum.el === 'Sn'"}],"mark":{"type":"line","color":"#3a78c0","strokeWidth":1.7}},
{"data":{"name":"spectra"},"transform":[{"filter":"datum.el === 'Ag'"}],"mark":{"type":"line","color":"#ffff00","strokeWidth":1.3}},
{"data":{"name":"spectra"},"transform":[{"filter":"datum.el === 'Cu'"}],"mark":{"type":"line","color":"#ff0000","strokeWidth":1.3}},
{"data":{"name":"spectra"},"transform":[{"filter":"datum.el === 'Y'"}],"mark":{"type":"line","color":"#ff00ff","strokeWidth":1.3}},
{"data":{"name":"arrow"},"mark":{"type":"rule","color":"#808080","strokeWidth":2},"encoding":{"y2":{"field":"ct2"}}},
{"data":{"name":"arrow"},"mark":{"type":"point","shape":"triangle-down","filled":true,"color":"black","size":169,"opacity":1},"encoding":{"y":{"field":"tip","type":"quantitative"}}},
{"data":{"name":"notes"},"mark":{"type":"text","font":"Liberation Serif","fontSize":27,"color":"black","align":"center","baseline":"middle"},"encoding":{"text":{"field":"t"}}}
]
}
